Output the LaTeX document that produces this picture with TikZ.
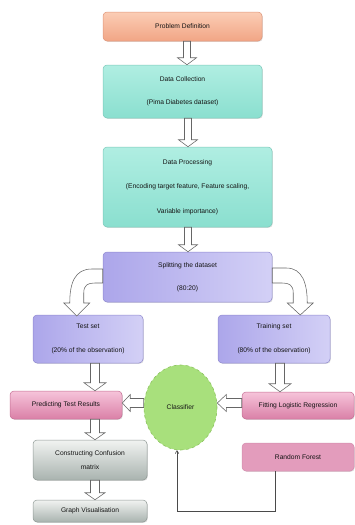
\documentclass[tikz,border=0pt]{standalone}
\usepackage{fontspec}
\setmainfont{Liberation Sans}
\usetikzlibrary{calc,arrows.meta,shadows,shapes.geometric}
\definecolor{txt}{HTML}{141414}
\definecolor{arrline}{HTML}{666666}
\definecolor{peachT}{HTML}{FBCDB5}\definecolor{peachB}{HTML}{F1A585}\definecolor{peachD}{HTML}{E0967A}
\definecolor{tealT}{HTML}{B0EEE2}\definecolor{tealB}{HTML}{8ADFCF}\definecolor{tealD}{HTML}{7CC8BA}
\definecolor{lavL}{HTML}{ACA6EA}\definecolor{lavR}{HTML}{D3D0F6}\definecolor{lavD}{HTML}{8F89CF}
\definecolor{pinkT}{HTML}{F6C4DA}\definecolor{pinkB}{HTML}{DA80A7}\definecolor{pinkD}{HTML}{C46E93}
\definecolor{pinkF}{HTML}{E39CBC}\definecolor{pinkFD}{HTML}{D38DAD}
\definecolor{grayT}{HTML}{F1F3F1}\definecolor{grayB}{HTML}{A9B3AF}\definecolor{grayD}{HTML}{8E9894}
\definecolor{clsF}{HTML}{A8E07C}\definecolor{clsD}{HTML}{8CC35F}
\definecolor{fbcol}{HTML}{4A4A4A}
\newcommand\BlkDown[5]{\draw[barrow] let \p1=(#1),\p2=(#2) in
  (\x1-#3,\y1) -- (\x1-#3,\y2+#5) -- (\x1-#4,\y2+#5) -- (\x1,\y2) --
  (\x1+#4,\y2+#5) -- (\x1+#3,\y2+#5) -- (\x1+#3,\y1) -- cycle;}
\newcommand\BlkLeft[5]{\draw[barrow] let \p1=(#1),\p2=(#2) in
  (\x1,\y1+#3) -- (\x2+#5,\y1+#3) -- (\x2+#5,\y1+#4) -- (\x2,\y1) --
  (\x2+#5,\y1-#4) -- (\x2+#5,\y1-#3) -- (\x1,\y1-#3) -- cycle;}
\begin{document}
\begin{tikzpicture}[x=1pt,y=-1pt,
  every node/.style={font=\fontsize{6.7}{8}\selectfont, text=txt},
  box/.style={rounded corners=4pt, draw, line width=0.5pt, align=center, inner sep=0pt,
    drop shadow={shadow xshift=0.8pt, shadow yshift=-0.8pt, opacity=0.25}},
  peach/.style={box, top color=peachT, bottom color=peachB, draw=peachD},
  teal/.style={box, top color=tealT, bottom color=tealB, draw=tealD},
  lav/.style={box, left color=lavL, right color=lavR, draw=lavD},
  pinkg/.style={box, top color=pinkT, bottom color=pinkB, draw=pinkD},
  pinkf/.style={box, fill=pinkF, draw=pinkFD},
  grayg/.style={box, top color=grayT, bottom color=grayB, draw=grayD},
  barrow/.style={draw=arrline, fill=white, line width=0.55pt, line join=miter},
  fbline/.style={draw=fbcol, line width=0.6pt, -{To[length=3.5pt,width=4pt]}}
]
\useasboundingbox (0,0) rectangle (354,525);

\node[peach, minimum width=159, minimum height=29] (pd) at (182.5,26.5) {Problem Definition};
\node[teal, minimum width=159, minimum height=53] (dc) at (182.5,91.5)
  {Data Collection\\[15pt](Pima Diabetes dataset)};
\node[teal, minimum width=169, minimum height=80] (dp) at (187.5,187)
  {Data Processing\\[16.5pt](Encoding target feature, Feature scaling,\\[16.5pt]Variable importance)};
\node[lav, minimum width=169, minimum height=50] (split) at (187.5,277)
  {Splitting the dataset\\[15pt](80:20)};
\node[lav, minimum width=110, minimum height=48] (test) at (88,339)
  {Test set\\[16pt](20\% of the observation)};
\node[lav, minimum width=112, minimum height=48] (train) at (274,339)
  {Training set\\[16pt](80\% of the observation)};
\node[pinkg, minimum width=112, minimum height=28] (pred) at (66,405) {Predicting Test Results};
\node[pinkg, minimum width=112, minimum height=27] (fit) at (298,405.5) {Fitting Logistic Regression};
\node[ellipse, draw=clsD, fill=clsF, dashed, line width=0.6pt,
  minimum width=73, minimum height=85, inner sep=0pt] (cls) at (180.5,407.5) {Classifier};
\node[grayg, minimum width=114, minimum height=40] (conf) at (90,460)
  {Constructing Confusion\\[6pt]matrix};
\node[grayg, minimum width=114, minimum height=22] (graph) at (90,511) {Graph Visualisation};
\node[pinkf, minimum width=112, minimum height=28] (rf) at (298,457) {Random Forest};

% straight block arrows
\BlkDown{[xshift=4.5pt]pd.south}{dc.north}{3.5pt}{9.5pt}{7pt}
\BlkDown{[xshift=5.5pt]dc.south}{dp.north}{3.5pt}{9.5pt}{7pt}
\BlkDown{[xshift=0.5pt]dp.south}{split.north}{3.5pt}{9.5pt}{7pt}
\BlkDown{[xshift=7pt]test.south}{pred.north}{4.5pt}{11pt}{8pt}
\BlkDown{[xshift=6pt]train.south}{fit.north}{4.5pt}{11pt}{8pt}
\BlkDown{[xshift=29pt]pred.south}{conf.north}{4.5pt}{10pt}{7pt}
\BlkDown{[xshift=5pt]conf.south}{graph.north}{4.5pt}{10pt}{7pt}
\BlkLeft{[yshift=2.5pt]fit.west}{cls.east}{4.5pt}{8.5pt}{9pt}
\BlkLeft{[yshift=4.5pt]cls.west}{pred.east}{4.5pt}{8.5pt}{8pt}

% curved block arrows
\draw[barrow] let \p1=(split.west) in
  (\x1,\y1+8pt) -- (\x1-11pt,\y1+8pt)
  .. controls (\x1-28pt,\y1+8pt) and (\x1-33pt,\y1-6pt) .. (\x1-33pt,\y1-26pt)
  -- (\x1-39pt,\y1-26pt) -- (\x1-26pt,\y1-39pt) -- (\x1-13pt,\y1-26pt)
  -- (\x1-19pt,\y1-26pt) -- (\x1-19pt,\y1-16pt)
  .. controls (\x1-19pt,\y1-8pt) and (\x1-15pt,\y1-6pt) .. (\x1-8pt,\y1-6pt)
  -- (\x1,\y1-6pt) -- cycle;
\draw[barrow] let \p1=(split.east) in
  (\x1,\y1+9pt) -- (\x1+14pt,\y1+9pt)
  .. controls (\x1+30pt,\y1+9pt) and (\x1+35pt,\y1-6pt) .. (\x1+35pt,\y1-26pt)
  -- (\x1+41pt,\y1-26pt) -- (\x1+28pt,\y1-38pt) -- (\x1+15pt,\y1-26pt)
  -- (\x1+21pt,\y1-26pt) -- (\x1+21pt,\y1-16pt)
  .. controls (\x1+21pt,\y1-8pt) and (\x1+17pt,\y1-6pt) .. (\x1+10pt,\y1-6pt)
  -- (\x1,\y1-6pt) -- cycle;

% feedback line
\coordinate (fb) at (275,511);
\draw[fbline] (rf.south -| fb) -- (fb) -| ([xshift=-3.5pt]cls.south);
\end{tikzpicture}
\end{document}
